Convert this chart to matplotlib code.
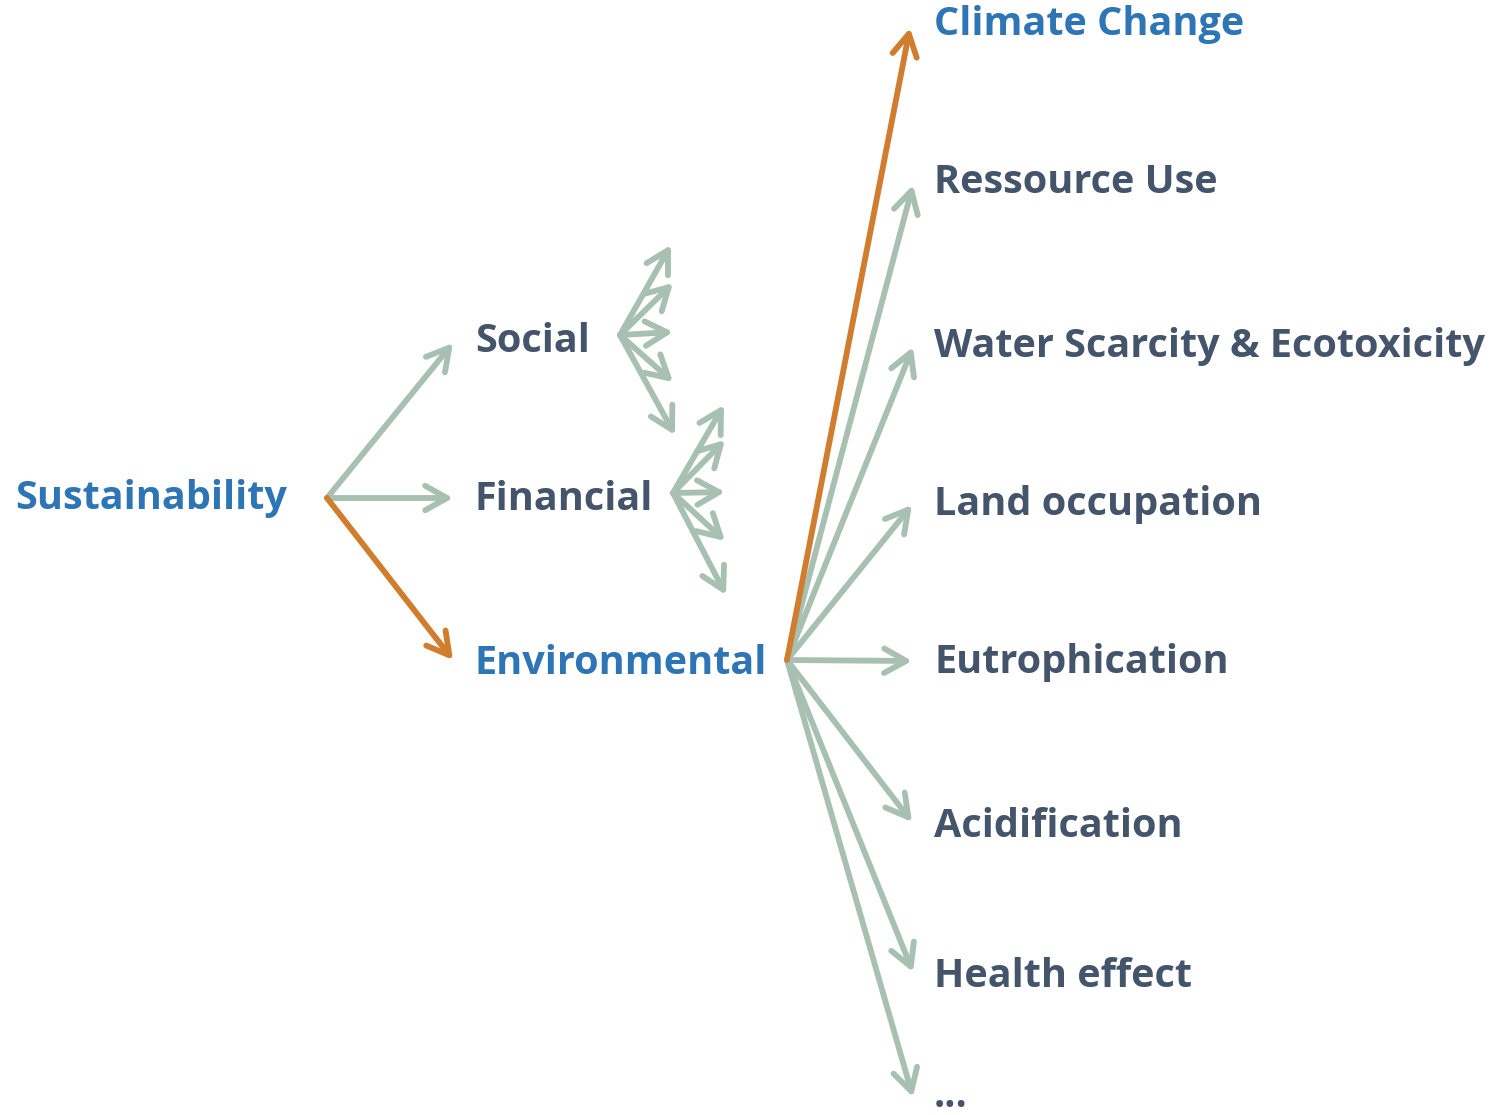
import matplotlib.pyplot as plt

# Data: the tree
root = "Sustainability"
pillars = ["Social", "Financial", "Environmental"]
highlight_pillar = "Environmental"
impacts = ["Climate Change", "Ressource Use", "Water Scarcity & Ecotoxicity",
           "Land occupation", "Eutrophication", "Acidification", "Health effect", "..."]
highlight_impact = "Climate Change"
n_sub = {"Social": 5, "Financial": 5}

# Colours
BLUE = "#2e75b6"
SLATE = "#44546a"
GREEN = "#a8c0b2"
ORANGE = "#d07d2f"

# Layout (pixel space, text positions are baselines)
root_xy = (15, 509)
root_tail = (327, 498)
pillar_x = 475
pillar_tip_x = 453
pillar_y = [352, 510, 674]
pillar_tip_y = [343, 498, 660]
sub_tail = {"Social": (620, 335), "Financial": (673, 493)}
sub_tips = {"Social": [(671, 245), (673, 283), (673, 332), (673, 382), (675, 435)],
            "Financial": [(724, 405), (725, 440), (725, 492), (725, 541), (726, 595)]}
env_tail = (787, 660)
impact_x = 934
impact_y = [35, 193, 357, 515, 673, 837, 987, 1107]
impact_tip = [(910, 28), (913, 185), (913, 347), (912, 505), (912, 661),
              (912, 822), (913, 972), (913, 1097)]

fig = plt.figure(figsize=(14.98, 11.15), dpi=100)
ax = fig.add_axes([0, 0, 1, 1])
ax.set_xlim(0, 1498)
ax.set_ylim(1115, 0)
ax.axis("off")

font = dict(family=["Open Sans", "DejaVu Sans"], weight="bold", fontsize=28.5)


def arrow(tail, tip, color):
    ax.annotate("", xy=tip, xytext=tail,
                arrowprops=dict(arrowstyle="->,head_length=0.75,head_width=0.42",
                                mutation_scale=21, color=color, lw=4.2,
                                capstyle="round", joinstyle="round",
                                shrinkA=0, shrinkB=0))


ax.text(root_xy[0], root_xy[1], root, color=BLUE, va="baseline", ha="left", **font)

for name, y, ty in zip(pillars, pillar_y, pillar_tip_y):
    hi = name == highlight_pillar
    arrow(root_tail, (pillar_tip_x, ty), ORANGE if hi else GREEN)
    ax.text(pillar_x, y, name, color=BLUE if hi else SLATE, va="baseline", ha="left", **font)

for name in ["Social", "Financial"]:
    for tip in sub_tips[name][:n_sub[name]]:
        arrow(sub_tail[name], tip, GREEN)

# draw green first, orange on top
order = sorted(range(len(impacts)), key=lambda i: impacts[i] == highlight_impact)
for i in order:
    hi = impacts[i] == highlight_impact
    arrow(env_tail, impact_tip[i], ORANGE if hi else GREEN)
for name, y in zip(impacts, impact_y):
    hi = name == highlight_impact
    ax.text(impact_x, y, name, color=BLUE if hi else SLATE, va="baseline", ha="left", **font)

fig.savefig("out.png", dpi=100)
